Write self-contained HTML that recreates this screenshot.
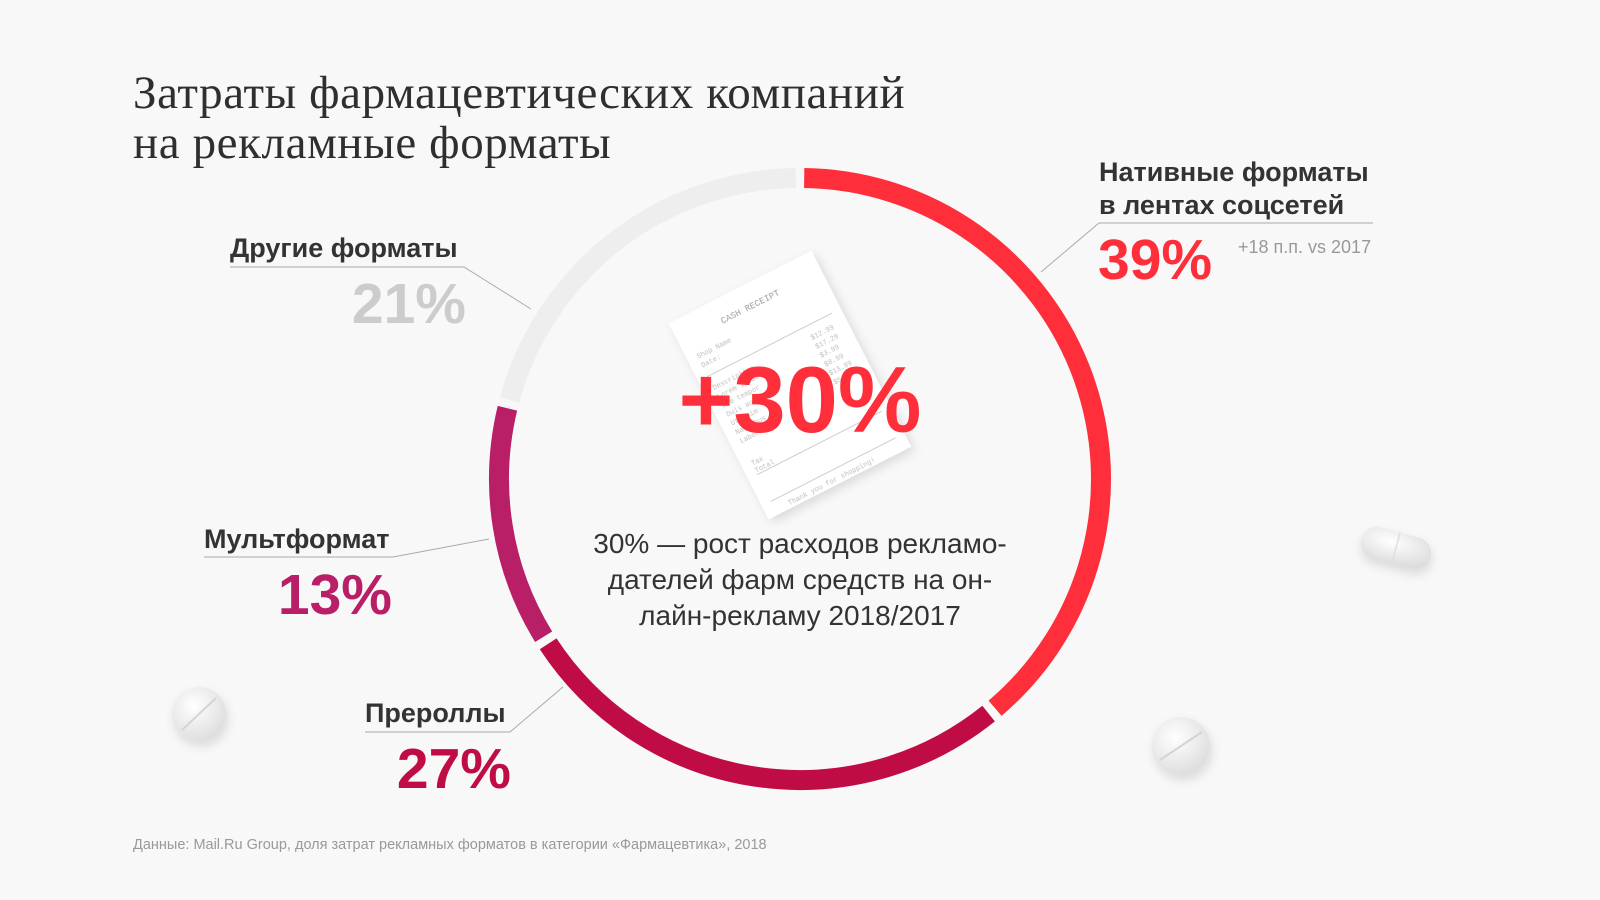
<!DOCTYPE html>
<html><head><meta charset="utf-8"><style>
html,body{margin:0;padding:0;background:#f8f8f8;}
#root{position:relative;width:1600px;height:900px;overflow:hidden;background:#f8f8f8;font-family:"Liberation Sans","DejaVu Sans",sans-serif;}
svg{position:absolute;left:0;top:0;}
</style></head><body>
<div id="root">
<svg id="chart" width="1600" height="900" viewBox="0 0 1600 900">
  <defs>
    <radialGradient id="pill" cx="40%" cy="35%" r="70%">
      <stop offset="0" stop-color="#ffffff"/><stop offset="1" stop-color="#dcdcdc"/>
    </radialGradient>
    <filter id="sh" x="-50%" y="-50%" width="200%" height="200%"><feDropShadow dx="2" dy="5" stdDeviation="5" flood-color="#000" flood-opacity="0.12"/></filter>
  </defs>
  <g filter="url(#sh)"><circle cx="199" cy="714" r="27" fill="url(#pill)"/><line x1="182" y1="730" x2="216" y2="698" stroke="#d4d4d4" stroke-width="2"/></g>
  <g filter="url(#sh)"><circle cx="1181" cy="746" r="29" fill="url(#pill)"/><line x1="1160" y1="760" x2="1202" y2="732" stroke="#d4d4d4" stroke-width="2"/></g>
  <g filter="url(#sh)" transform="rotate(15 1396 548)"><rect x="1360" y="532" width="72" height="32" rx="16" fill="url(#pill)"/><line x1="1396" y1="532" x2="1396" y2="564" stroke="#dedede" stroke-width="1.5"/></g>
  <g transform="rotate(-27 790 385)" filter="url(#sh)">
    <rect x="710" y="275" width="160" height="220" fill="#ffffff"/>
    <text x="790" y="300" font-family="Liberation Mono,monospace" font-size="9" fill="#999" text-anchor="middle">CASH RECEIPT</text>
    <g stroke="#ccc" stroke-width="1"><line x1="720" y1="340" x2="860" y2="340"/><line x1="720" y1="450" x2="860" y2="450"/><line x1="720" y1="480" x2="860" y2="480"/></g>
    <g fill="#bbb" font-family="Liberation Mono,monospace" font-size="7">
      <text x="720" y="320">Shop Name</text><text x="720" y="330">Date:</text>
      <text x="720" y="355">Description</text><text x="720" y="365">Lorem ipsum</text><text x="720" y="375">Eum tempor</text><text x="720" y="385">Duis aute</text><text x="720" y="395">Ut enim</text><text x="720" y="405">Nacimbus</text><text x="720" y="415">Labore</text>
      <text x="720" y="440">Tax</text><text x="720" y="448">Total</text><text x="735" y="492">Thank you for shopping!</text>
      <text x="830" y="355">$12.99</text><text x="830" y="365">$17.29</text><text x="830" y="375">$3.99</text><text x="830" y="385">$8.99</text><text x="830" y="395">$13.89</text><text x="830" y="405">$5.39</text>
    </g>
  </g>
  <g id="segs"></g>
  <g stroke="#aaa" stroke-width="1" fill="none">
    <polyline points="1373,223 1099,223 1041,272"/>
    <polyline points="230,267 464,267 531,309"/>
    <polyline points="204,557 393,557 489,539"/>
    <polyline points="365,732 510,732 563,687"/>
  </g>
</svg>
<div style="position:absolute;left:133px;top:68px;font-family:'Liberation Serif',serif;font-size:47px;line-height:50px;letter-spacing:0.6px;color:#2f2f2f;">Затраты фармацевтических компаний<br>на рекламные форматы</div>

<div style="position:absolute;left:1099px;top:156px;font-size:27px;line-height:33px;font-weight:bold;color:#333;">Нативные форматы<br>в лентах соцсетей</div>
<div style="position:absolute;left:1098px;top:230px;font-size:57px;line-height:60px;font-weight:bold;color:#fe2e3a;">39%</div>
<div style="position:absolute;left:1238px;top:236px;font-size:18px;line-height:22px;color:#999;">+18 п.п. vs 2017</div>

<div style="position:absolute;left:230px;top:232px;font-size:27px;line-height:32px;font-weight:bold;color:#333;">Другие форматы</div>
<div style="position:absolute;left:300px;width:166px;text-align:right;top:274px;font-size:57px;line-height:60px;font-weight:bold;color:#cccccc;">21%</div>

<div style="position:absolute;left:204px;top:523px;font-size:27px;line-height:32px;font-weight:bold;color:#333;">Мультформат</div>
<div style="position:absolute;left:230px;width:162px;text-align:right;top:565px;font-size:57px;line-height:60px;font-weight:bold;color:#b81f66;">13%</div>

<div style="position:absolute;left:365px;top:697px;font-size:27px;line-height:32px;font-weight:bold;color:#333;">Прероллы</div>
<div style="position:absolute;left:340px;width:171px;text-align:right;top:739px;font-size:57px;line-height:60px;font-weight:bold;color:#c00c45;">27%</div>

<div style="position:absolute;left:550px;width:500px;text-align:center;top:350px;font-size:94px;line-height:100px;font-weight:bold;color:#fe2e3a;">+30%</div>
<div style="position:absolute;left:520px;width:560px;text-align:center;top:526px;font-size:28px;line-height:36px;color:#333;">30% — рост расходов рекламо-<br>дателей фарм средств на он-<br>лайн-рекламу 2018/2017</div>

<div style="position:absolute;left:133px;top:837px;font-size:14.5px;line-height:16px;color:#999;">Данные: Mail.Ru Group, доля затрат рекламных форматов в категории «Фармацевтика», 2018</div>
</div>
<script>
const categories = ["Нативные форматы в лентах соцсетей", "Прероллы", "Мультформат", "Другие форматы"];
const values = [39, 27, 13, 21];
const colors = ["#fe2e3a", "#c00c45", "#b81f66", "#eeeeee"];
const cx = 800, cy = 479, r = 301, sw = 20, gapDeg = 0.8;
const total = values.reduce((a, b) => a + b, 0);
function angleScale(v) { return v / total * 360; }
function pt(deg) { const a = (deg - 90) * Math.PI / 180; return [cx + r * Math.cos(a), cy + r * Math.sin(a)]; }
const g = document.getElementById('segs');
let start = 0;
values.forEach((v, i) => {
  const sweep = angleScale(v);
  const a0 = start + gapDeg, a1 = start + sweep - gapDeg;
  const p0 = pt(a0), p1 = pt(a1);
  const large = (a1 - a0) > 180 ? 1 : 0;
  const p = document.createElementNS('http://www.w3.org/2000/svg', 'path');
  p.setAttribute('d', `M${p0[0]},${p0[1]} A${r},${r} 0 ${large} 1 ${p1[0]},${p1[1]}`);
  p.setAttribute('fill', 'none');
  p.setAttribute('stroke', colors[i]);
  p.setAttribute('stroke-width', sw);
  
  
  g.appendChild(p);
  start += sweep;
});
</script>
</body></html>
